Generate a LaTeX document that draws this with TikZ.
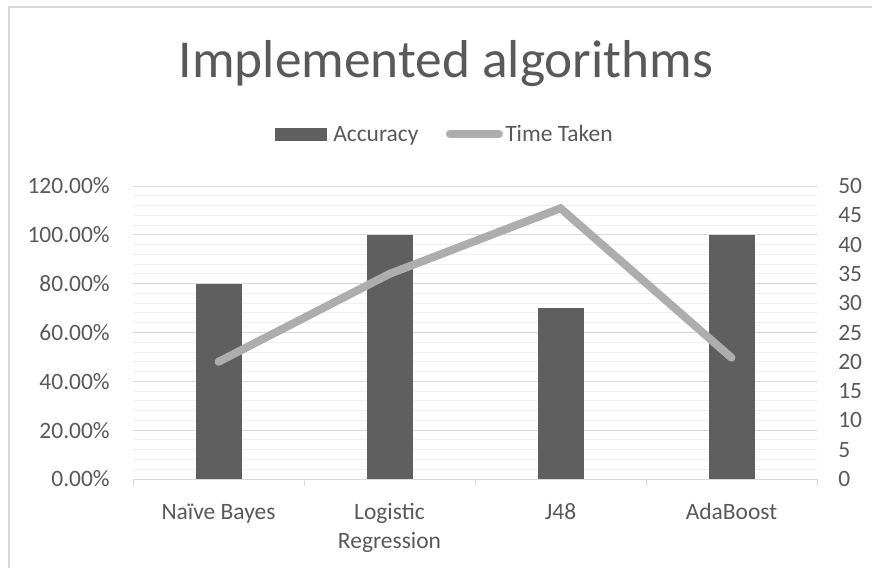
\documentclass[tikz,border=0pt]{standalone}
\usepackage{fontspec}
\setmainfont{Carlito}
\definecolor{txt}{HTML}{595959}
\definecolor{barc}{HTML}{5F5F5F}
\definecolor{linec}{HTML}{ADADAD}
\definecolor{majg}{HTML}{D9D9D9}
\definecolor{ming}{HTML}{F0F0F0}
\begin{document}
\begin{tikzpicture}[x=0.75pt,y=-0.75pt,
  lbl/.style={text=txt,font=\fontsize{17.6}{21}\selectfont,inner sep=0pt},
  bar/.style={fill=barc,draw=none},
  series/.style={draw=linec,line width=6pt,line cap=round,line join=miter},
  frame/.style={draw=majg,line width=1.5pt}]
\useasboundingbox (0,0) rectangle (872,568);
\fill[white] (0,0) rectangle (872,568);
\draw[frame] (9,568) -- (9,7) -- (872,7);
% minor gridlines
\foreach \i in {1,...,29}{
  \draw[ming,line width=0.75pt] (133,{479-\i*9.7667}) -- (817,{479-\i*9.7667});
}
% major gridlines
\foreach \i in {1,...,6}{
  \draw[majg,line width=0.75pt] (133,{479-\i*48.833}) -- (817,{479-\i*48.833});
}
% axis
\draw[majg,line width=0.75pt] (133,479) -- (817,479);
\foreach \x in {133,304,475,646,817}{
  \draw[majg,line width=0.75pt] (\x,479) -- (\x,486);
}
% bars
\fill[bar] (195.5,{479-80*2.44167}) rectangle (241.5,479);
\fill[bar] (366.5,{479-100*2.44167}) rectangle (412.5,479);
\fill[bar] (537.5,{479-70*2.44167}) rectangle (583.5,479);
\fill[bar] (708.5,{479-100*2.44167}) rectangle (754.5,479);
% line series
\coordinate (p1) at (218.5,{479-20*5.86});
\coordinate (p2) at (389.5,{479-35*5.86});
\coordinate (p3) at (560.5,{479-46.2*5.86});
\coordinate (p4) at (731.5,{479-20.7*5.86});
\draw[series] (p1) -- (p2) -- (p3) -- (p4);
% left axis labels
\foreach \v/\t in {0/0.00\%,20/20.00\%,40/40.00\%,60/60.00\%,80/80.00\%,100/100.00\%,120/120.00\%}{
  \node[lbl,anchor=east] (l\v) at (110,{479-\v*2.44167}) {\t};
}
% right axis labels
\foreach \v in {0,5,...,50}{
  \node[lbl,anchor=west] (r\v) at (838,{479-\v*5.86}) {\v};
}
% category labels
\node[lbl,anchor=base] (c1) at (218.5,519) {Naïve Bayes};
\node[lbl,anchor=base] (c2) at (389.5,519) {Logistic};
\node[lbl,anchor=base] (c2b) at (389.5,548) {Regression};
\node[lbl,anchor=base] (c3) at (560.5,519) {J48};
\node[lbl,anchor=base] (c4) at (731.5,519) {AdaBoost};
% title
\node[text=txt,font=\fontsize{40}{48}\selectfont,inner sep=0pt,anchor=base] (title) at (446,77) {Implemented algorithms};
% legend
\fill[bar] (275,128) rectangle (327,141);
\node[lbl,anchor=base west] (legA) at (333,141) {Accuracy};
\coordinate (la) at (450,134);
\coordinate (lb) at (499,134);
\draw[series] (la) -- (lb);
\node[lbl,anchor=base west] (legT) at (505,141) {Time Taken};
\end{tikzpicture}
\end{document}
